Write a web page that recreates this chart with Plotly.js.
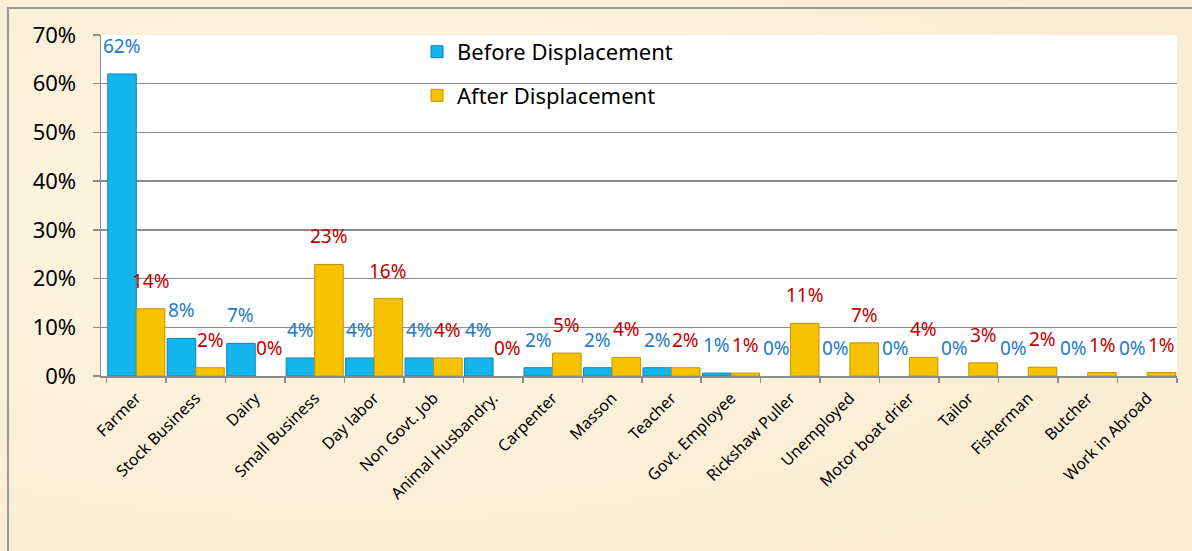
<!DOCTYPE html>
<html>
<head>
<meta charset="utf-8">
<script src="https://cdn.plot.ly/plotly-3.0.1.min.js"></script>
<style>
  html, body { margin: 0; padding: 0; background: #FCF1DC; }
  #wrap { position: relative; width: 1192px; height: 551px; overflow: hidden;
          background: radial-gradient(ellipse at 30% 40%, #FDF5E6 0%, #FBEFD6 60%, #F9EBCF 100%); }
  #chart { position: absolute; left: 0; top: 0; width: 1192px; height: 551px; }
  #frame { position: absolute; left: 7px; top: 7px; width: 1200px; height: 560px;
           border-left: 2px solid #9a9a9a; border-top: 2px solid #9a9a9a; pointer-events: none; }
</style>
</head>
<body>
<div id="wrap">
  <div id="chart"></div>
  <div id="frame"></div>
</div>
<script>
const categories = ["Farmer", "Stock Business", "Dairy", "Small Business", "Day labor",
  "Non Govt. Job", "Animal Husbandry.", "Carpenter", "Masson", "Teacher",
  "Govt. Employee", "Rickshaw Puller", "Unemployed", "Motor boat drier", "Tailor",
  "Fisherman", "Butcher", "Work in Abroad"];

const beforeValues = [0.620, 0.077, 0.067, 0.037, 0.037, 0.037, 0.037, 0.017, 0.017, 0.017,
  0.006, 0, 0, 0, 0, 0, 0, 0];
const afterValues  = [0.138, 0.017, 0, 0.229, 0.159, 0.037, 0, 0.047, 0.038, 0.017,
  0.006, 0.108, 0.068, 0.038, 0.027, 0.018, 0.007, 0.007];

const seriesNames = ["Before Displacement", "After Displacement"];
const yTickValues = [0, 0.1, 0.2, 0.3, 0.4, 0.5, 0.6, 0.7];

const FONT = "Noto Sans, Open Sans, DejaVu Sans, sans-serif";

function lineWidths(vals) { return vals.map(function (v) { return v > 0 ? 1 : 0; }); }

const traces = [
  {
    type: "bar", name: seriesNames[0], x: categories, y: beforeValues,
    legendgroup: "a",
    marker: { color: "#14B4EC", line: { color: "#0A86B6", width: lineWidths(beforeValues) } },
    hoverinfo: "x+y"
  },
  {
    type: "bar", name: seriesNames[1], x: categories, y: afterValues,
    legendgroup: "b",
    marker: { color: "#F7C200", line: { color: "#C29300", width: lineWidths(afterValues) } },
    hoverinfo: "x+y"
  }
];

const labelColors = ["#1F7BC8", "#C00000"];
const shifts = [-14.3, 14.3];
const annotations = [];
[beforeValues, afterValues].forEach(function (vals, s) {
  vals.forEach(function (v, i) {
    annotations.push({
      x: categories[i], y: v, xref: "x", yref: "y",
      text: Math.round(v * 100) + "%",
      showarrow: false, xanchor: "center", yanchor: "bottom",
      xshift: shifts[s], yshift: 13,
      font: { family: FONT, size: 19, color: labelColors[s] }
    });
  });
});

const layout = {
  width: 1192, height: 551,
  margin: { l: 101, r: 15, t: 35, b: 175 },
  paper_bgcolor: "rgba(0,0,0,0)",
  plot_bgcolor: "#FFFFFF",
  barmode: "group",
  bargap: 0.04,
  bargroupgap: 0,
  font: { family: FONT, color: "#000" },
  showlegend: true,
  legend: {
    x: 0.2937, y: 1.012, xanchor: "left", yanchor: "top",
    bgcolor: "rgba(0,0,0,0)",
    font: { family: FONT, size: 22, color: "#000" },
    tracegroupgap: 12,
    itemwidth: 30
  },
  xaxis: {
    type: "category",
    tickangle: -45,
    tickfont: { family: FONT, size: 16, color: "#000" },
    ticks: "outside", tickson: "boundaries", ticklen: 5, tickcolor: "#8c8c8c", tickwidth: 1.5,
    ticklabelstandoff: 5,
    showline: true, linecolor: "#8c8c8c", linewidth: 1.5,
    showgrid: false, zeroline: false, automargin: false
  },
  yaxis: {
    range: [0, 0.7],
    tickvals: yTickValues,
    tickformat: ".0%",
    tickfont: { family: FONT, size: 22, color: "#000" },
    ticks: "outside", ticklen: 7, tickcolor: "#8c8c8c", tickwidth: 1.5,
    ticklabelstandoff: 12,
    showline: true, linecolor: "#8c8c8c", linewidth: 1.5,
    showgrid: true, gridcolor: "#8c8c8c", gridwidth: 1.5,
    zeroline: false, automargin: false
  },
  annotations: annotations
};

Plotly.newPlot("chart", traces, layout, { displayModeBar: false, staticPlot: true });
</script>
</body>
</html>
